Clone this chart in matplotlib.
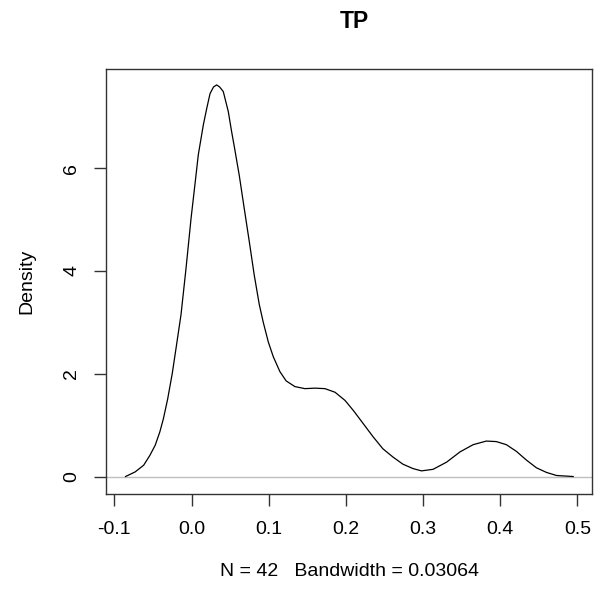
import matplotlib
matplotlib.use('Agg')
import matplotlib.pyplot as plt

plt.rcParams['font.family'] = ['Liberation Sans', 'DejaVu Sans']

# density curve
dens_x = [-0.0855, -0.073, -0.062, -0.054, -0.047, -0.041, -0.0365, -0.031, -0.025,
          -0.020, -0.0136, -0.0071, -0.0006, 0.0058, 0.0088, 0.0153, 0.0197, 0.024,
          0.0285, 0.0326, 0.0365, 0.0412, 0.0477, 0.052, 0.0557, 0.062, 0.0684,
          0.0749, 0.0813, 0.0878, 0.093, 0.0995, 0.106, 0.1146, 0.1227, 0.134,
          0.147, 0.160, 0.173, 0.186, 0.199, 0.210, 0.2225, 0.2355, 0.248, 0.261,
          0.274, 0.287, 0.298, 0.313, 0.3306, 0.348, 0.365, 0.382, 0.395, 0.408,
          0.421, 0.434, 0.447, 0.460, 0.473, 0.4946]
dens_y = [0.0, 0.09, 0.22, 0.41, 0.61, 0.87, 1.12, 1.50, 2.0,
          2.5, 3.15, 4.05, 5.02, 5.86, 6.26, 6.84, 7.16, 7.45,
          7.58, 7.62, 7.58, 7.49, 7.10, 6.71, 6.4, 5.85, 5.21,
          4.57, 3.92, 3.35, 3.00, 2.62, 2.33, 2.04, 1.86, 1.75,
          1.71, 1.72, 1.71, 1.64, 1.48, 1.28, 1.03, 0.77, 0.54, 0.38,
          0.24, 0.155, 0.11, 0.14, 0.28, 0.48, 0.62, 0.69, 0.68, 0.62,
          0.49, 0.32, 0.17, 0.08, 0.02, 0.0]

xticks = [-0.1, 0.0, 0.1, 0.2, 0.3, 0.4, 0.5]
yticks = [0, 2, 4, 6]

fig = plt.figure(figsize=(6.16, 5.95), dpi=100)
ax = fig.add_axes([106/616, 1 - 494/595, (592-106)/616, (494-69)/595])

ax.axhline(0, color='#BEBEBE', linewidth=1)
ax.plot(dens_x, dens_y, color='black', linewidth=0.9)

ax.set_xlim(-0.1108, 0.519)
ax.set_ylim(-0.34, 7.93)
ax.set_xticks(xticks)
ax.set_xticklabels(['%.1f' % v for v in xticks])
ax.set_yticks(yticks)
ax.set_yticklabels([str(v) for v in yticks], rotation=90, va='center')
ax.tick_params(labelsize=14, length=8.5, width=1, color='#333333')
ax.tick_params(axis='x', pad=11)
ax.tick_params(axis='y', pad=10)
for s in ax.spines.values():
    s.set_color('#333333')
    s.set_linewidth(1)

fig.text(354/616, 1 - 22/595, 'TP', ha='center', va='center', fontsize=16.5, fontweight='bold')
fig.text(349/616, 1 - 571/595, 'N = 42   Bandwidth = 0.03064', ha='center', va='center', fontsize=14)
fig.text(27/616, 1 - 281/595, 'Density', ha='center', va='center', rotation=90, fontsize=14)

fig.savefig('out.png', dpi=100)
